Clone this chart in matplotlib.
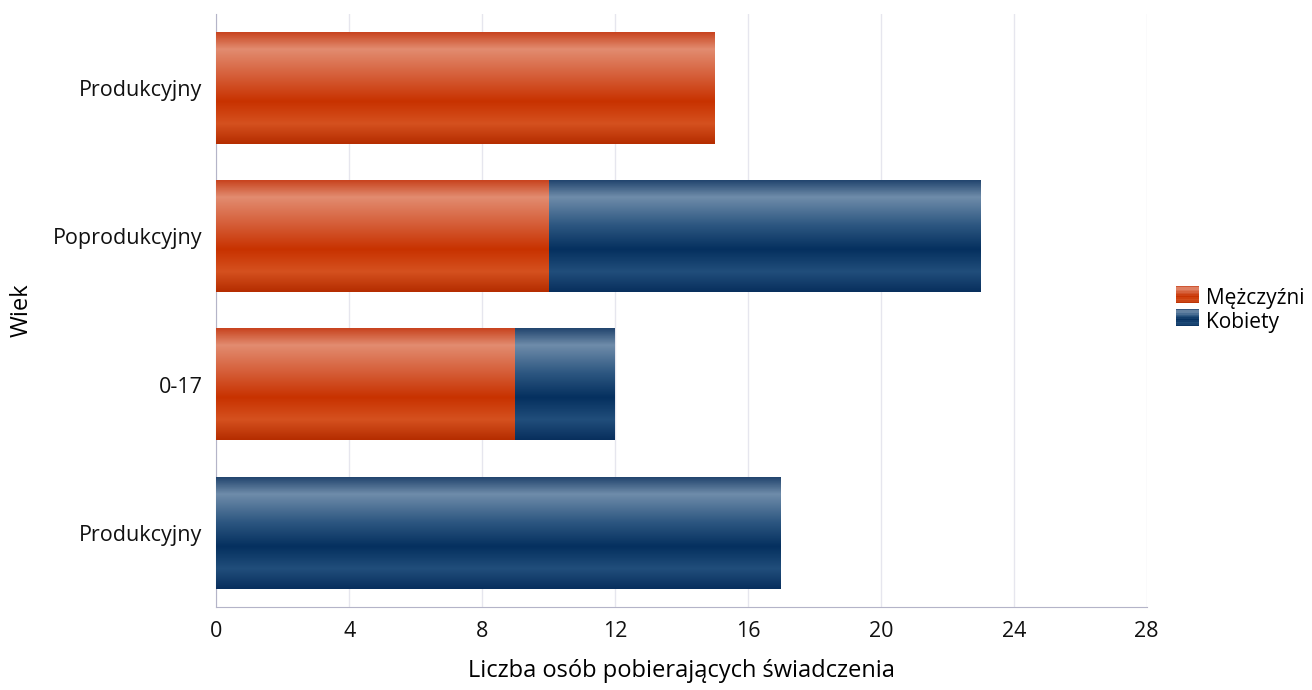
import numpy as np
import matplotlib
matplotlib.use("Agg")
import matplotlib.pyplot as plt
from matplotlib.colors import LinearSegmentedColormap
from matplotlib.legend_handler import HandlerBase
from matplotlib.patches import Rectangle

plt.rcParams['font.family'] = ['Open Sans', 'DejaVu Sans']

# dane (od dołu do góry)
kategorie = ['Produkcyjny', '0-17', 'Poprodukcyjny', 'Produkcyjny']
mezczyzni = [0, 9, 10, 15]
kobiety = [17, 3, 13, 0]
serie = ['Mężczyźni', 'Kobiety']

# gradienty (góra -> dół)
grad_m = LinearSegmentedColormap.from_list('m', [
    (0.0, '#c8441f'), (0.15, '#e28c70'), (0.38, '#d6603b'),
    (0.62, '#c83200'), (0.82, '#d5511f'), (1.0, '#b52d00')])
grad_k = LinearSegmentedColormap.from_list('k', [
    (0.0, '#23466f'), (0.15, '#6f8caa'), (0.40, '#2d5781'),
    (0.62, '#05305f'), (0.82, '#214e7b'), (1.0, '#082f5d')])

fig, ax = plt.subplots(figsize=(13.12, 6.9), dpi=100)
fig.subplots_adjust(left=0.165, right=0.874, top=0.98, bottom=0.12)

h = 0.75
y = np.arange(len(kategorie))
gradient = np.linspace(0, 1, 200).reshape(-1, 1)

def bar_grad(left, width, yc, cmap):
    if width <= 0:
        return
    ax.imshow(gradient, cmap=cmap, aspect='auto', origin='upper',
              extent=(left, left + width, yc - h / 2, yc + h / 2), zorder=3,
              interpolation='bilinear')

for i in range(len(kategorie)):
    bar_grad(0, mezczyzni[i], y[i], grad_m)
    bar_grad(mezczyzni[i], kobiety[i], y[i], grad_k)

ax.set_xlim(0, 28)
ax.set_ylim(-0.5, len(kategorie) - 0.5)
ax.set_xticks(np.arange(0, 29, 4))
ax.set_yticks(y)
ax.set_yticklabels(kategorie)
ax.tick_params(axis='both', length=0, labelsize=15.5, pad=10, colors='#111111')
ax.grid(axis='x', color='#e6e6ee', linewidth=1, zorder=0)
ax.set_axisbelow(True)
for s in ['top', 'right']:
    ax.spines[s].set_visible(False)
for s in ['left', 'bottom']:
    ax.spines[s].set_color('#b4b4c8')
ax.set_xlabel('Liczba osób pobierających świadczenia', fontsize=17, labelpad=12)
ax.set_ylabel('Wiek', fontsize=17, labelpad=14)


class HandlerGrad(HandlerBase):
    def __init__(self, cmap):
        super().__init__()
        self.cmap = cmap

    def create_artists(self, legend, orig_handle, xd, yd, width, height, fontsize, trans):
        arts = []
        n = 12
        for j in range(n):
            c = self.cmap((j + 0.5) / n)
            r = Rectangle((xd, yd + height - (j + 1) * height / n), width, height / n,
                          facecolor=c, edgecolor='none', transform=trans)
            arts.append(r)
        return arts


hm = Rectangle((0, 0), 1, 1)
hk = Rectangle((0, 0), 1, 1)
ax.legend([hm, hk], serie, loc='center left', bbox_to_anchor=(1.011, 0.5),
          frameon=False, fontsize=15, handlelength=1.1, handleheight=0.9,
          handletextpad=0.35, labelspacing=0.1, borderaxespad=0.5,
          handler_map={hm: HandlerGrad(grad_m), hk: HandlerGrad(grad_k)})

fig.savefig('out.png', dpi=100)
